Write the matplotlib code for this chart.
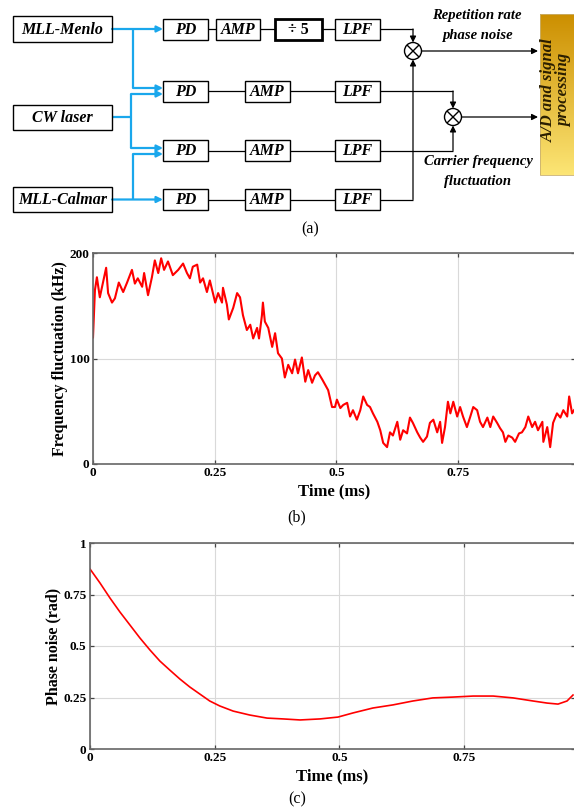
import numpy as np
import matplotlib
matplotlib.use("Agg")
import matplotlib.pyplot as plt
from matplotlib.patches import Rectangle, Circle

# ---------------- data ----------------
freq_time_ms = [0.000, 0.004, 0.008, 0.014, 0.027, 0.031, 0.039, 0.045, 0.053, 0.062,
                0.070, 0.080, 0.086, 0.092, 0.101, 0.105, 0.113, 0.121, 0.127, 0.134,
                0.140, 0.146, 0.154, 0.164, 0.175, 0.185, 0.193, 0.199, 0.205, 0.214,
                0.220, 0.226, 0.234, 0.240, 0.251, 0.257, 0.265, 0.267, 0.275, 0.279,
                0.288, 0.296, 0.302, 0.308, 0.316, 0.323, 0.329, 0.337, 0.341, 0.347,
                0.349, 0.353, 0.360, 0.368, 0.374, 0.380, 0.388, 0.394, 0.401, 0.409,
                0.415, 0.421, 0.429, 0.436, 0.442, 0.450, 0.456, 0.462, 0.471, 0.477,
                0.483, 0.491, 0.497, 0.501, 0.508, 0.514, 0.522, 0.528, 0.534, 0.542,
                0.549, 0.555, 0.563, 0.569, 0.575, 0.584, 0.590, 0.596, 0.604, 0.610,
                0.616, 0.625, 0.631, 0.637, 0.645, 0.651, 0.657, 0.666, 0.672, 0.678,
                0.686, 0.692, 0.699, 0.707, 0.713, 0.717, 0.723, 0.729, 0.734, 0.740,
                0.748, 0.754, 0.760, 0.768, 0.775, 0.781, 0.789, 0.795, 0.801, 0.810,
                0.816, 0.822, 0.830, 0.836, 0.842, 0.847, 0.853, 0.861, 0.867, 0.875,
                0.881, 0.888, 0.894, 0.902, 0.908, 0.914, 0.923, 0.925, 0.933, 0.939,
                0.945, 0.953, 0.960, 0.966, 0.974, 0.978, 0.984, 0.988]
freq_khz = [120, 165, 177, 158, 186, 162, 153, 157, 172, 163,
            172, 184, 171, 176, 168, 181, 160, 177, 193, 181,
            195, 184, 192, 179, 184, 190, 181, 176, 187, 189,
            172, 176, 163, 174, 153, 162, 153, 167, 151, 137,
            148, 162, 158, 141, 127, 132, 119, 129, 119, 141,
            153, 135, 129, 111, 124, 105, 100, 82, 94, 86,
            99, 86, 101, 78, 89, 77, 84, 87, 80, 75,
            70, 54, 54, 61, 53, 56, 58, 45, 51, 42,
            51, 64, 56, 54, 48, 40, 32, 20, 16, 30,
            27, 40, 23, 32, 29, 44, 39, 30, 25, 21,
            26, 39, 42, 30, 40, 20, 35, 59, 48, 59,
            45, 54, 45, 35, 45, 54, 51, 40, 35, 44,
            35, 45, 39, 34, 30, 21, 27, 25, 21, 29,
            30, 35, 45, 35, 40, 32, 40, 21, 35, 16,
            39, 48, 44, 51, 45, 64, 48, 51]

phase_time_ms = [0.000, 0.020, 0.040, 0.060, 0.080, 0.100, 0.120, 0.140, 0.160, 0.180,
                 0.200, 0.220, 0.240, 0.260, 0.287, 0.320, 0.355, 0.387, 0.421, 0.461,
                 0.497, 0.527, 0.567, 0.607, 0.647, 0.687, 0.727, 0.768, 0.808, 0.848,
                 0.888, 0.916, 0.938, 0.956, 0.968]
phase_rad = [0.874, 0.806, 0.733, 0.665, 0.602, 0.539, 0.481, 0.427, 0.383, 0.340,
             0.301, 0.267, 0.233, 0.209, 0.184, 0.165, 0.150, 0.146, 0.141, 0.146,
             0.155, 0.175, 0.199, 0.214, 0.233, 0.248, 0.252, 0.257, 0.257, 0.248,
             0.233, 0.223, 0.218, 0.233, 0.262]

x_ticks = [0, 0.25, 0.5, 0.75]
x_tick_labels = ["0", "0.25", "0.5", "0.75"]
b_y_ticks = [0, 100, 200]
c_y_ticks = [0, 0.25, 0.5, 0.75, 1]
c_y_tick_labels = ["0", "0.25", "0.5", "0.75", "1"]

# ---------------- figure ----------------
W, H = 574, 810
fig = plt.figure(figsize=(W / 100, H / 100), dpi=100)
SERIF = "Liberation Serif"
BLUE = "#1aa7ec"

# diagram canvas in pixel coordinates
d = fig.add_axes([0, 0, 1, 1])
d.set_xlim(0, W)
d.set_ylim(H, 0)
d.axis("off")


def box(x0, x1, yc, label, h=21, lw=1.0, fs=11.5, italic=True):
    d.add_patch(Rectangle((x0, yc - h / 2), x1 - x0, h, fill=False, ec="black", lw=lw, zorder=3))
    d.text((x0 + x1) / 2, yc + 0.5, label, ha="center", va="center", family=SERIF,
           weight="bold", style="italic" if italic else "normal", fontsize=fs, zorder=4)


def line(xs, ys, color="black", lw=0.9):
    d.plot(xs, ys, color=color, lw=lw, solid_capstyle="butt", zorder=2)


def arrow(p0, p1, color="black", lw=0.9, ms=9):
    d.annotate("", xy=p1, xytext=p0,
               arrowprops=dict(arrowstyle="-|>", color=color, lw=lw, mutation_scale=ms,
                               shrinkA=0, shrinkB=0), zorder=2)


# sources
box(13, 112, 29, "MLL-Menlo", h=26)
box(13, 112, 117, "CW laser", h=25)
box(13, 112, 199.5, "MLL-Calmar", h=25)

rows = [29, 91, 150.5, 199.5]
# blue optical paths
blw = 1.6
arrow((112, 29), (163, 29), BLUE, blw)
line([133, 133], [29, 88], BLUE, blw)
arrow((133, 88), (163, 88), BLUE, blw)
line([112, 131], [117, 117], BLUE, blw)
line([131, 131], [94, 148], BLUE, blw)
arrow((131, 94), (163, 94), BLUE, blw)
arrow((131, 148), (163, 148), BLUE, blw)
arrow((112, 199.5), (163, 199.5), BLUE, blw)
line([133, 133], [154, 199.5], BLUE, blw)
arrow((133, 154), (163, 154), BLUE, blw)

# electrical chains
for i, yc in enumerate(rows):
    box(163, 208, yc, "PD")
    if i == 0:
        box(216, 260, yc, "AMP")
        box(275, 322, yc, "\u00f7 5", lw=2.0, italic=False)
        line([208, 216], [yc, yc])
        line([260, 275], [yc, yc])
        line([322, 335], [yc, yc])
    else:
        box(245, 290, yc, "AMP")
        line([208, 245], [yc, yc])
        line([290, 335], [yc, yc])
    box(335, 380, yc, "LPF")

# mixers
r = 8.5
m1 = (413, 51)
m2 = (453, 117)
for (cx, cy) in (m1, m2):
    d.add_patch(Circle((cx, cy), r, fill=False, ec="black", lw=1.0, zorder=3))
    k = r * 0.7071
    line([cx - k, cx + k], [cy - k, cy + k], lw=1.0)
    line([cx - k, cx + k], [cy + k, cy - k], lw=1.0)

line([380, 413], [rows[0], rows[0]])
arrow((413, rows[0]), (413, m1[1] - r))
line([380, 413], [rows[3], rows[3]])
arrow((413, rows[3]), (413, m1[1] + r))
line([380, 453], [rows[1], rows[1]])
arrow((453, rows[1]), (453, m2[1] - r))
line([380, 453], [rows[2], rows[2]])
arrow((453, rows[2]), (453, m2[1] + r))
arrow((m1[0] + r, m1[1]), (538, m1[1]))
arrow((m2[0] + r, m2[1]), (538, m2[1]))

# annotations
lab = dict(family=SERIF, weight="bold", style="italic", fontsize=10.5, ha="center", va="center")
d.text(477, 15, "Repetition rate", **lab)
d.text(477, 35, "phase noise", **lab)
d.text(478, 162, "Carrier frequency", **lab)
d.text(478, 182, "fluctuation", **lab)

# yellow processing block with gradient
grad = np.linspace(0, 1, 256).reshape(-1, 1)
top = np.array([0.80, 0.56, 0.00])
bot = np.array([0.99, 0.90, 0.46])
img = top + (bot - top) * grad[..., None]
img = img.reshape(256, 1, 3)
d.imshow(img, extent=(540, 578, 175, 14), aspect="auto", zorder=1, interpolation="bilinear")
d.add_patch(Rectangle((540, 14), 38, 161, fill=False, ec="#c9b070", lw=0.6, zorder=2))
d.text(556.5, 90, "A/D and signal\nprocessing", rotation=90, ha="center", va="center",
       family=SERIF, weight="bold", style="italic", fontsize=12, color="#2a1e00",
       linespacing=1.0, zorder=4)
d.set_xlim(0, W)
d.set_ylim(H, 0)

d.text(310, 229, "(a)", family=SERIF, fontsize=11.5, ha="center", va="center")
d.text(297, 517, "(b)", family=SERIF, fontsize=11.5, ha="center", va="center")
d.text(297, 799, "(c)", family=SERIF, fontsize=11.5, ha="center", va="center")


def style_axes(ax):
    for s in ax.spines.values():
        s.set_color("#666666")
        s.set_linewidth(1.2)
    ax.grid(True, color="#d9d9d9", lw=0.8)
    ax.set_axisbelow(True)
    ax.tick_params(direction="in", length=3, width=0.9, color="#444444", top=True,
                   right=True, pad=2.5, labelsize=9.5)
    for t in ax.get_xticklabels() + ax.get_yticklabels():
        t.set_family(SERIF)
        t.set_weight("bold")


# (b) frequency fluctuation
axb = fig.add_axes([93 / W, 1 - 464 / H, (575 - 93) / W, 211 / H])
axb.plot(freq_time_ms, freq_khz, color="#ff0000", lw=1.5)
axb.set_xlim(0, 0.99)
axb.set_ylim(0, 200)
axb.set_xticks(x_ticks)
axb.set_xticklabels(x_tick_labels)
axb.set_yticks(b_y_ticks)
style_axes(axb)
axb.set_xlabel("Time (ms)", family=SERIF, weight="bold", fontsize=12, labelpad=3)
axb.set_ylabel("Frequency fluctuation (kHz)", family=SERIF, weight="bold", fontsize=11.5, labelpad=1)

# (c) phase noise
axc = fig.add_axes([90 / W, 1 - 749 / H, (575 - 90) / W, 206 / H])
axc.plot(phase_time_ms, phase_rad, color="#ff0000", lw=1.2)
axc.set_xlim(0, 0.972)
axc.set_ylim(0, 1)
axc.set_xticks(x_ticks)
axc.set_xticklabels(x_tick_labels)
axc.set_yticks(c_y_ticks)
axc.set_yticklabels(c_y_tick_labels)
style_axes(axc)
axc.set_xlabel("Time (ms)", family=SERIF, weight="bold", fontsize=12, labelpad=3)
axc.set_ylabel("Phase noise (rad)", family=SERIF, weight="bold", fontsize=11.5, labelpad=1)

fig.savefig("out.png", dpi=100)
